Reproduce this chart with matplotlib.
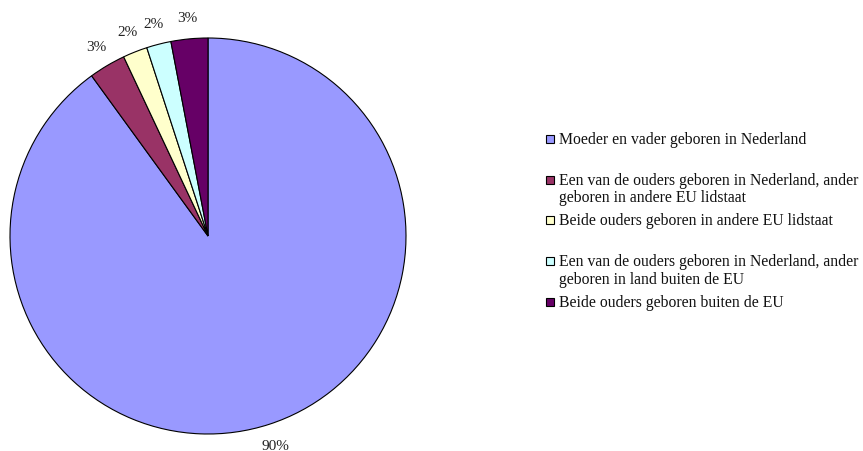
import matplotlib
matplotlib.use("Agg")
from matplotlib import pyplot as plt
from matplotlib.patches import Rectangle

labels = [
    "Moeder en vader geboren in Nederland",
    "Een van de ouders geboren in Nederland, ander\ngeboren in andere EU lidstaat",
    "Beide ouders geboren in andere EU lidstaat",
    "Een van de ouders geboren in Nederland, ander\ngeboren in land buiten de EU",
    "Beide ouders geboren buiten de EU",
]
shares = [90, 3, 2, 2, 3]
colors = ["#9999FF", "#993366", "#FFFFCC", "#CCFFFF", "#660066"]

W, H = 863, 452
plt.rcParams["font.family"] = ["Liberation Serif", "DejaVu Serif"]
fig = plt.figure(figsize=(W / 100, H / 100), dpi=100)

# pie: centre (208, 237) px, radius ~198 px
cx, cy, r = 208, 237, 198
ax = fig.add_axes([(cx - r) / W, 1 - (cy + r) / H, 2 * r / W, 2 * r / H])
ax.pie(shares, colors=colors, startangle=90, counterclock=False,
       autopct="%1.0f%%", pctdistance=1.11,
       wedgeprops=dict(edgecolor="black", linewidth=0.8),
       textprops=dict(fontsize=11, color="#222222"))
ax.set_xlim(-1, 1)
ax.set_ylim(-1, 1)
ax.set_aspect("equal")
ax.axis("off")

# legend drawn by hand: Excel-style equal slots
x_box, box = 546, 8
y0, step = 140, 40.7
for i, (lab, col) in enumerate(zip(labels, colors)):
    yc = y0 + i * step
    fig.add_artist(Rectangle((x_box / W, 1 - (yc + box / 2) / H), box / W, box / H,
                             transform=fig.transFigure, facecolor=col,
                             edgecolor="black", linewidth=0.8))
    fig.text(559 / W, 1 - (yc - 8) / H, lab, fontsize=11.3, va="top", ha="left",
             linespacing=1.12, color="#111111")

fig.savefig("out.png", dpi=100)
